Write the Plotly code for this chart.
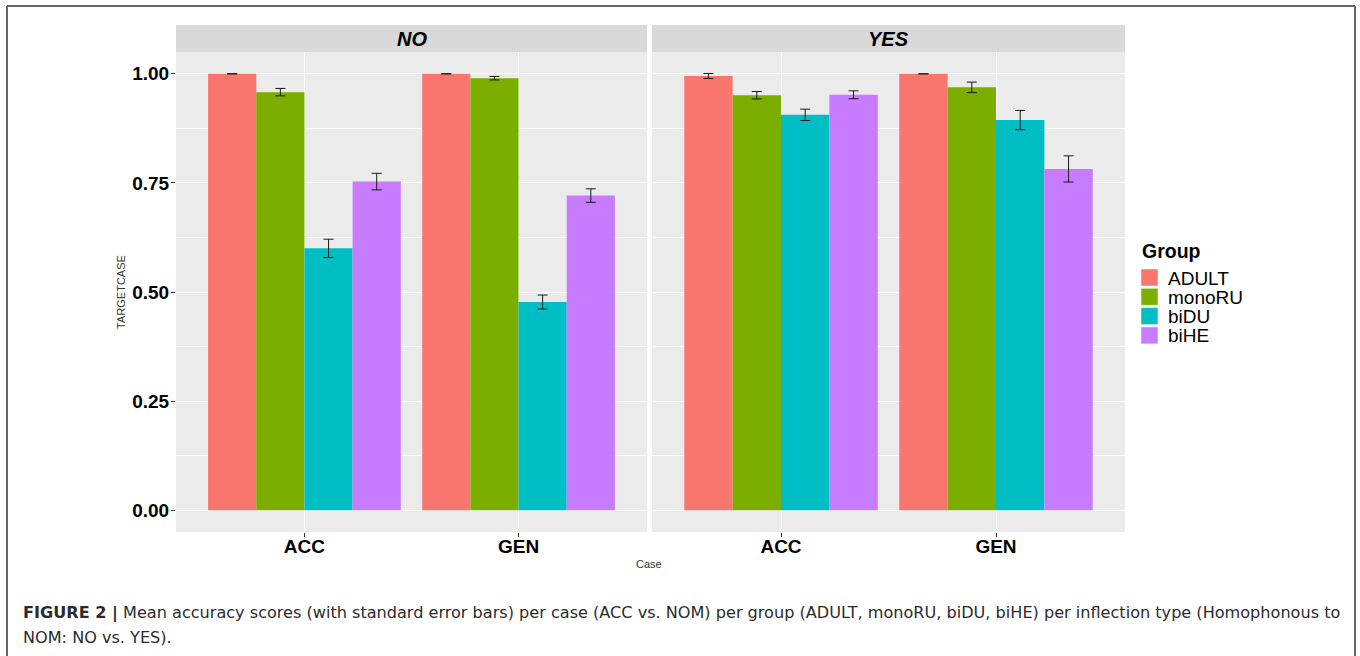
import plotly.graph_objects as go

# Case categories on the x axis and the four participant groups
cases = ["ACC", "GEN"]
groups = ["ADULT", "monoRU", "biDU", "biHE"]
group_colors = ["#F8766D", "#7CAE00", "#00BFC4", "#C77CFF"]
panels = ["NO", "YES"]

# Mean accuracy per group (ordered as `groups`), by case and panel
no_acc_mean = [1.000, 0.958, 0.600, 0.753]
no_gen_mean = [1.000, 0.990, 0.477, 0.721]
yes_acc_mean = [0.995, 0.951, 0.906, 0.952]
yes_gen_mean = [1.000, 0.969, 0.894, 0.782]

# Standard errors, same layout
no_acc_se = [0.000, 0.0085, 0.021, 0.019]
no_gen_se = [0.000, 0.004, 0.016, 0.0155]
yes_acc_se = [0.0057, 0.0085, 0.013, 0.009]
yes_gen_se = [0.000, 0.012, 0.022, 0.030]

y_ticks = [0.0, 0.25, 0.5, 0.75, 1.0]
y_ticktext = ["0.00", "0.25", "0.50", "0.75", "1.00"]

FONT = "Liberation Sans, Arial, Helvetica, sans-serif"
CAPTION_FONT = "DejaVu Sans, Liberation Sans, sans-serif"
W, H = 1360, 656


def px_x(v):
    return v / W


def px_y(v):
    return 1 - v / H


panel_data = {
    "NO": (no_acc_mean, no_gen_mean, no_acc_se, no_gen_se),
    "YES": (yes_acc_mean, yes_gen_mean, yes_acc_se, yes_gen_se),
}

fig = go.Figure()
for p_idx, panel in enumerate(panels):
    acc_m, gen_m, acc_s, gen_s = panel_data[panel]
    xa = "x" if p_idx == 0 else "x2"
    for g_idx, grp in enumerate(groups):
        fig.add_trace(go.Bar(
            x=cases,
            y=[acc_m[g_idx], gen_m[g_idx]],
            error_y=dict(type="data", array=[acc_s[g_idx], gen_s[g_idx]],
                         color="#1a1a1a", thickness=1, width=5),
            name=grp,
            legendgroup=grp,
            showlegend=False,
            marker=dict(color=group_colors[g_idx], line=dict(width=0)),
            xaxis=xa, yaxis="y",
            offsetgroup=grp,
        ))

plot_top, plot_bot = 52, 532
panel_x = [(176, 647), (652, 1125)]

axis_common = dict(
    type="category",
    range=[-0.6, 1.6],
    showgrid=True, gridcolor="white", gridwidth=1.1,
    ticks="outside", ticklen=4, tickcolor="#333333", tickwidth=1,
    tickfont=dict(family=FONT, size=19, color="black", weight="bold"),
    ticklabelstandoff=-7,
    showline=False, zeroline=False,
    anchor="y",
)

fig.update_layout(
    width=W, height=H,
    margin=dict(l=0, r=0, t=0, b=0),
    paper_bgcolor="white",
    plot_bgcolor="#EBEBEB",
    barmode="group", bargap=0.1, bargroupgap=0,
    xaxis=dict(domain=[px_x(panel_x[0][0]), px_x(panel_x[0][1])], **axis_common),
    xaxis2=dict(domain=[px_x(panel_x[1][0]), px_x(panel_x[1][1])], **axis_common),
    yaxis=dict(
        domain=[px_y(plot_bot), px_y(plot_top)],
        range=[-0.05, 1.05],
        tickvals=y_ticks, ticktext=y_ticktext,
        showgrid=True, gridcolor="white", gridwidth=1.1,
        minor=dict(dtick=0.125, tick0=0.125, showgrid=True, gridcolor="white", gridwidth=0.5),
        ticks="outside", ticklen=4, tickcolor="#333333", tickwidth=1,
        tickfont=dict(family=FONT, size=19, color="black", weight="bold"),
        ticklabelstandoff=-2,
        zeroline=False, showline=False,
        title=dict(text="TARGETCASE", font=dict(family=FONT, size=11, color="#333333"), standoff=4),
    ),
    showlegend=False,
)

shapes = []
# Facet strips
for (x0, x1), panel in zip(panel_x, panels):
    shapes.append(dict(type="rect", xref="paper", yref="paper",
                       x0=px_x(x0), x1=px_x(x1), y0=px_y(plot_top), y1=px_y(25),
                       fillcolor="#D9D9D9", line=dict(width=0), layer="below"))
# Outer figure frame
shapes.append(dict(type="line", xref="paper", yref="paper", x0=px_x(7), x1=px_x(7),
                   y0=px_y(6), y1=0, line=dict(color="#666666", width=2)))
shapes.append(dict(type="line", xref="paper", yref="paper", x0=px_x(7), x1=px_x(1355),
                   y0=px_y(6), y1=px_y(6), line=dict(color="#666666", width=2)))
shapes.append(dict(type="line", xref="paper", yref="paper", x0=px_x(1355), x1=px_x(1355),
                   y0=px_y(6), y1=0, line=dict(color="#666666", width=2)))

annotations = []

# Group legend: colour keys and labels
legend_x0, key_size, key_step, first_key_top = 1141, 17, 19.3, 269
annotations.append(dict(
    text="<b>Group</b>", xref="paper", yref="paper", x=px_x(legend_x0 - 1), y=px_y(251),
    xanchor="left", yanchor="middle", showarrow=False,
    font=dict(family=FONT, size=19.5, color="black"),
))
for g_idx, grp in enumerate(groups):
    top = first_key_top + g_idx * key_step
    shapes.append(dict(type="rect", xref="paper", yref="paper",
                       x0=px_x(legend_x0), x1=px_x(legend_x0 + key_size),
                       y0=px_y(top + key_size), y1=px_y(top),
                       fillcolor=group_colors[g_idx], line=dict(color="#F2F2F2", width=0.6)))
    annotations.append(dict(
        text=grp, xref="paper", yref="paper", x=px_x(1166), y=px_y(top + key_size / 2 + 0.5),
        xanchor="left", yanchor="middle", showarrow=False,
        font=dict(family=FONT, size=19, color="black"),
    ))

# Facet strip labels
for (x0, x1), panel in zip(panel_x, panels):
    annotations.append(dict(
        text=f"<b><i>{panel}</i></b>", xref="paper", yref="paper",
        x=px_x((x0 + x1) / 2), y=px_y(39), xanchor="center", yanchor="middle",
        showarrow=False, font=dict(family=FONT, size=20, color="black"),
    ))
annotations.append(dict(
    text="Case", xref="paper", yref="paper", x=px_x(649), y=px_y(564),
    xanchor="center", yanchor="middle", showarrow=False,
    font=dict(family=FONT, size=11, color="#333333"),
))
# Caption
annotations.append(dict(
    text="<b>FIGURE 2 |</b> Mean accuracy scores (with standard error bars) per case (ACC vs. NOM) "
         "per group (ADULT, monoRU, biDU, biHE) per inflection type (Homophonous to",
    xref="paper", yref="paper", x=px_x(21), y=px_y(613), xanchor="left", yanchor="middle",
    showarrow=False, font=dict(family=CAPTION_FONT, size=16.1, color="#2b2b2b"),
))
annotations.append(dict(
    text="NOM: NO vs. YES).",
    xref="paper", yref="paper", x=px_x(21), y=px_y(637), xanchor="left", yanchor="middle",
    showarrow=False, font=dict(family=CAPTION_FONT, size=16.1, color="#2b2b2b"),
))

fig.update_layout(shapes=shapes, annotations=annotations)

fig.write_html("out.html")
